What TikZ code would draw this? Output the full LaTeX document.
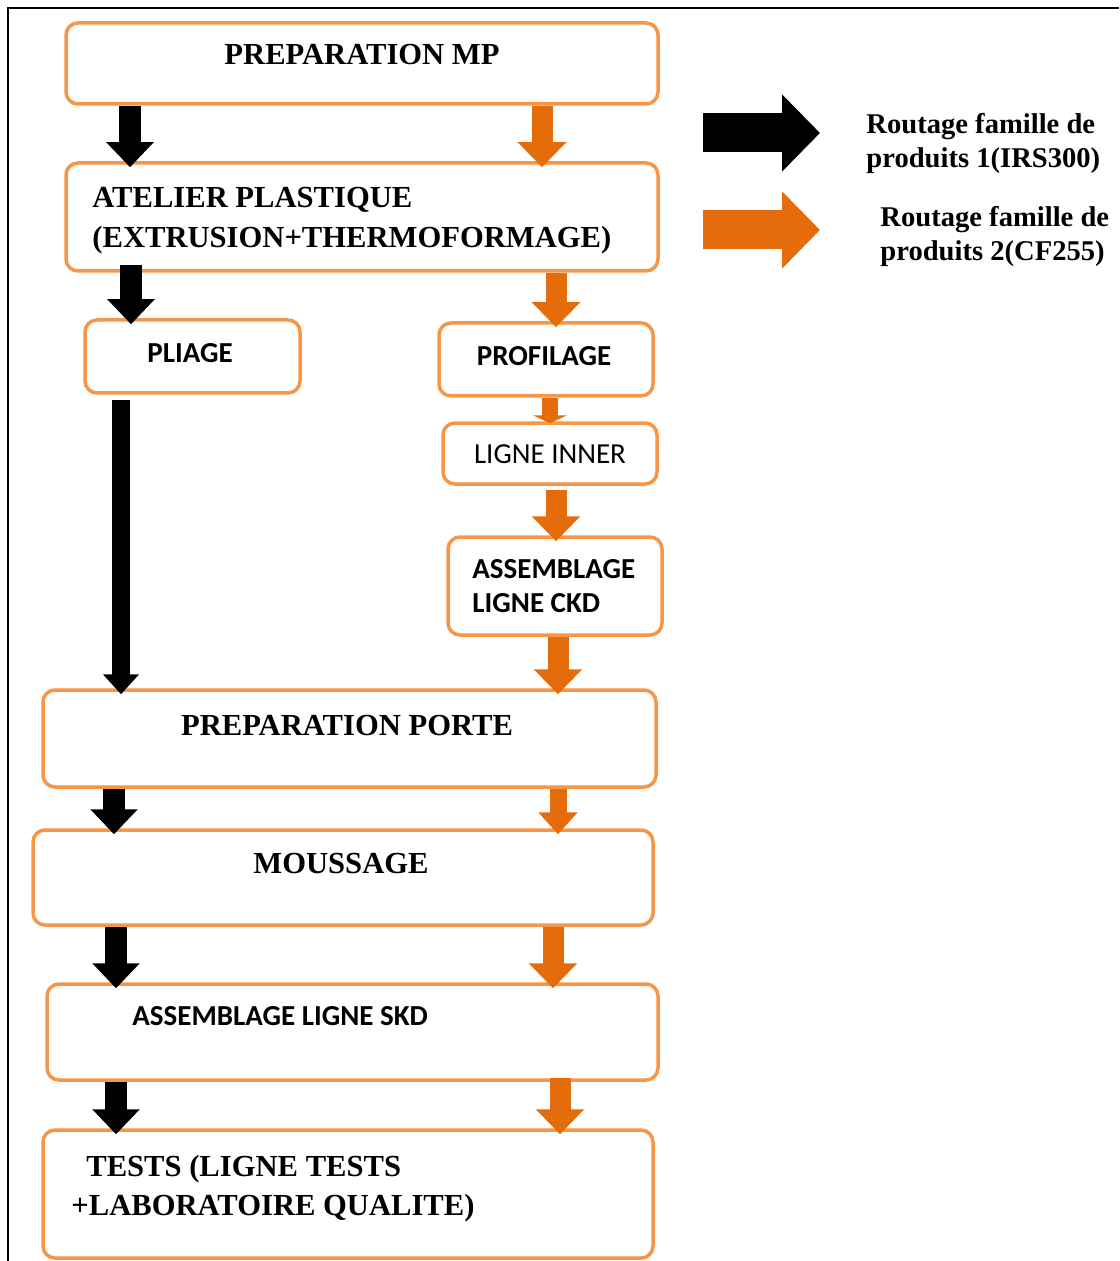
\documentclass[tikz,border=0pt]{standalone}
\usepackage{fontspec}
\setmainfont{Liberation Serif}
\newfontfamily\calib{Carlito}
\usetikzlibrary{arrows.meta,fit}
\definecolor{boxorange}{HTML}{F79646}
\definecolor{arroworange}{HTML}{E46C0A}

\begin{document}
\begin{tikzpicture}[x=0.5pt,y=-0.5pt,
  box/.style={draw=boxorange, line width=1.75pt, rounded corners=6pt, inner sep=0pt, fill=white},
  serif/.style={font=\fontsize{15.3}{18}\selectfont\bfseries, inner sep=0pt},
  sans/.style={font=\calib\fontsize{14.5}{17}\selectfont\bfseries, inner sep=0pt},
  sansreg/.style={font=\calib\fontsize{14.5}{17}\selectfont, inner sep=0pt},
  legend/.style={font=\fontsize{14.3}{17}\selectfont\bfseries, inner sep=0pt, anchor=base west},
  blk/.style={draw=black, line width=11pt, -{Triangle[width=23pt,length=12.5pt]}, shorten >=-3pt},
  org/.style={draw=arroworange, line width=10.5pt, -{Triangle[width=23.5pt,length=12.5pt,color=arroworange]}, shorten >=-3pt},
  legarrow/.style={line width=19.5pt, -{Triangle[width=37.5pt,length=19pt]}}
]
\useasboundingbox (0,0) rectangle (1119,1261);

% outer frame
\draw[line width=1pt] (1119,8) -- (8,8) -- (8,1261);

% process boxes
\node[box, fit={(66,23) (658,104)}] (pmp) {};
\node[box, fit={(66,163) (658,271)}] (atl) {};
\node[box, fit={(85,320) (300,393)}] (pli) {};
\node[box, fit={(439,323) (653,396)}] (pro) {};
\node[box, fit={(443,423) (657,484)}] (inn) {};
\node[box, fit={(448,537) (662,635)}] (ckd) {};
\node[box, fit={(43,690) (656,787)}] (por) {};
\node[box, fit={(33,830) (653,925)}] (mou) {};
\node[box, fit={(47,984) (658,1080)}] (skd) {};
\node[box, fit={(43,1130) (653,1258)}] (tst) {};

% box labels
\node[serif, anchor=base] (tpmp) at (362,65) {PREPARATION MP};
\node[serif, anchor=base west] (tatl1) at (92,208) {ATELIER PLASTIQUE};
\node[serif, anchor=base west] (tatl2) at (92,248) {(EXTRUSION+THERMOFORMAGE)};
\node[sans, anchor=base] (tpli) at (190,363) {PLIAGE};
\node[sans, anchor=base] (tpro) at (544,366) {PROFILAGE};
\node[sansreg, anchor=base] (tinn) at (550,463) {LIGNE INNER};
\node[sans, anchor=base west] (tckd1) at (472,578) {ASSEMBLAGE};
\node[sans, anchor=base west] (tckd2) at (472,612) {LIGNE CKD};
\node[serif, anchor=base] (tpor) at (347,735) {PREPARATION PORTE};
\node[serif, anchor=base] (tmou) at (341,873) {MOUSSAGE};
\node[sans, anchor=base west] (tskd) at (132,1025) {ASSEMBLAGE LIGNE SKD};
\node[serif, anchor=base west] (ttst1) at (86,1176) {TESTS (LIGNE TESTS};
\node[serif, anchor=base west] (ttst2) at (71,1215) {+LABORATOIRE QUALITE)};

% columns of the routing arrows
\coordinate (b1) at (130,0);
\coordinate (b2) at (131,0);
\coordinate (b3) at (121,0);
\coordinate (b4) at (114,0);
\coordinate (b5) at (116,0);
\coordinate (b6) at (116,0);
\coordinate (o1) at (542,0);
\coordinate (o2) at (556,0);
\coordinate (o3) at (550,0);
\coordinate (o4) at (556,0);
\coordinate (o5) at (558,0);
\coordinate (o6) at (558,0);
\coordinate (o7) at (553,0);
\coordinate (o8) at (560,0);

% product family 1 (black)
\draw[blk] (pmp.south -| b1) -- (atl.north -| b1);
\draw[blk, shorten <=-4pt] (atl.south -| b2) -- (pli.north -| b2);
\draw[blk, line width=9pt, -{Triangle[width=17.5pt,length=10pt]}, shorten <=2.5pt] (pli.south -| b3) -- (por.north -| b3);
\draw[blk] (por.south -| b4) -- (mou.north -| b4);
\draw[blk] (mou.south -| b5) -- (skd.north -| b5);
\draw[blk] (skd.south -| b6) -- (tst.north -| b6);

% product family 2 (orange)
\draw[org] (pmp.south -| o1) -- (atl.north -| o1);
\draw[org] (atl.south -| o2) -- (pro.north -| o2);
\draw[org, line width=8pt, -{Triangle[width=17pt,length=4pt,color=arroworange]}, shorten >=-1pt] (pro.south -| o3) -- (inn.north -| o3);
\draw[org, shorten <=2pt] (inn.south -| o4) -- (ckd.north -| o4);
\draw[org] (ckd.south -| o5) -- (por.north -| o5);
\draw[org, line width=8.5pt, -{Triangle[width=19pt,length=11pt,color=arroworange]}] (por.south -| o6) -- (mou.north -| o6);
\draw[org] (mou.south -| o7) -- (skd.north -| o7);
\draw[org, shorten <=-2pt] (skd.south -| o8) -- (tst.north -| o8);

% legend
\coordinate (l1s) at (703,133);
\coordinate (l1e) at (820,133);
\coordinate (l2s) at (703,230);
\coordinate (l2e) at (820,230);
\draw[legarrow, draw=black] (l1s) -- (l1e);
\draw[legarrow, draw=arroworange, -{Triangle[width=37.5pt,length=19pt,color=arroworange]}] (l2s) -- (l2e);
\node[legend] (leg1a) at (866,134) {Routage famille de};
\node[legend] (leg1b) at (866,168) {produits 1(IRS300)};
\node[legend] (leg2a) at (880,227) {Routage famille de};
\node[legend] (leg2b) at (880,261) {produits 2(CF255)};
\end{tikzpicture}
\end{document}
